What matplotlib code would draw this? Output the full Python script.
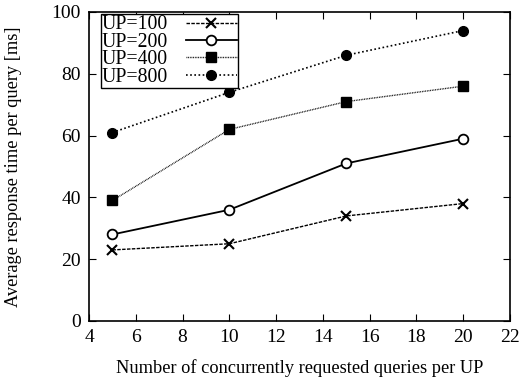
import matplotlib.pyplot as plt

plt.rcParams['font.family'] = ['Liberation Serif', 'DejaVu Serif']

# queries per UP
x = [5, 10, 15, 20]

up100 = [23, 25, 34, 38]
up200 = [28, 36, 51, 59]
up400 = [39, 62, 71, 76]
up800 = [61, 74, 86, 94]

labels = ['UP=100', 'UP=200', 'UP=400', 'UP=800']

fig = plt.figure(figsize=(5.28, 3.82), dpi=100)
ax = fig.add_axes([0.1686, 0.1597, 0.7974, 0.8089])

ax.plot(x, up100, color='black', lw=1.0, ls=(0, (2.5, 1)), marker='x', ms=7, mew=1.5, label=labels[0])
ax.plot(x, up200, color='black', lw=1.3, ls='-', marker='o', ms=7, mfc='white', mew=1.3, label=labels[1])
ax.plot(x, up400, color='black', lw=1.0, ls=(0, (0.6, 0.6)), marker='s', ms=7, label=labels[2])
ax.plot(x, up800, color='black', lw=1.2, ls=(0, (1, 1.5)), marker='o', ms=7, label=labels[3])

ax.set_xlim(4, 22)
ax.set_ylim(0, 100)
ax.set_xticks(range(4, 23, 2))
ax.set_yticks(range(0, 101, 20))
ax.tick_params(direction='in', top=True, right=True, length=5, labelsize=14, pad=6)
for s in ax.spines.values():
    s.set_linewidth(1.2)

ax.set_xlabel('Number of concurrently requested queries per UP', fontsize=13.2, labelpad=9)
ax.set_ylabel('Average response time per query [ms]', fontsize=13.2, labelpad=21)

leg = ax.legend(loc='upper left', bbox_to_anchor=(0.028, 0.992), fontsize=14.2, frameon=True,
                fancybox=False, edgecolor='black', framealpha=1,
                markerfirst=False, handlelength=2.6, borderpad=0.05, labelspacing=-0.08,
                borderaxespad=0.0, handletextpad=0.9)
leg.get_frame().set_linewidth(1.0)

fig.savefig('out.png', dpi=100)
